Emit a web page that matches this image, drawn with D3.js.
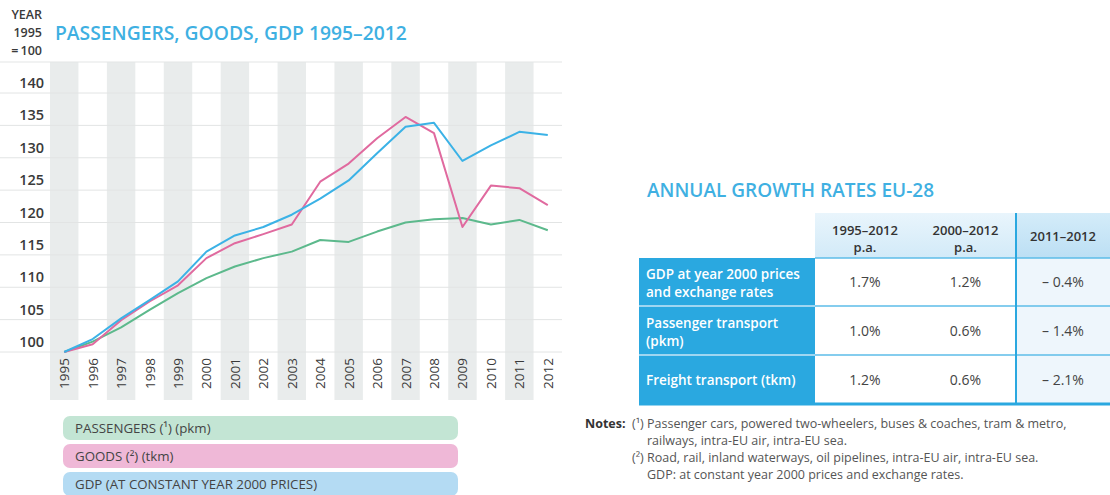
<!DOCTYPE html>
<html>
<head>
<meta charset="utf-8">
<script src="https://cdn.jsdelivr.net/npm/d3@7"></script>
<style>
  body { margin: 0; background: #fff; }
  svg { display: block; font-family: "Open Sans", sans-serif; }
</style>
</head>
<body>
<svg width="1110" height="495"></svg>
<script>
var years = [1995, 1996, 1997, 1998, 1999, 2000, 2001, 2002, 2003, 2004, 2005, 2006, 2007, 2008, 2009, 2010, 2011, 2012]
var passengers = [100, 101.6, 103.8, 106.5, 109.1, 111.4, 113.2, 114.5, 115.5, 117.3, 117.0, 118.6, 120.0, 120.5, 120.7, 119.7, 120.4, 118.8]
var goods = [100, 101.2, 104.9, 107.8, 110.3, 114.5, 116.8, 118.2, 119.7, 126.3, 129.1, 133.0, 136.3, 133.8, 119.3, 125.7, 125.3, 122.7]
var gdp = [100, 102.0, 105.2, 108.0, 110.9, 115.5, 118.0, 119.3, 121.2, 123.7, 126.5, 130.7, 134.8, 135.4, 129.5, 131.9, 134.0, 133.5]
var yTicks = [100, 105, 110, 115, 120, 125, 130, 135, 140]

var legendLabels = ['PASSENGERS (\u00b9) (pkm)', 'GOODS (\u00b2) (tkm)', 'GDP (AT CONSTANT YEAR 2000 PRICES)']

var colHeads = [['1995\u20132012', 'p.a.'], ['2000\u20132012', 'p.a.'], ['2011\u20132012']]
var rowLabels = [['GDP at year 2000 prices', 'and exchange rates'], ['Passenger transport', '(pkm)'], ['Freight transport (tkm)']]
var rates = [['1.7%', '1.2%', '\u2013 0.4%'], ['1.0%', '0.6%', '\u2013 1.4%'], ['1.2%', '0.6%', '\u2013 2.1%']]

var notes = [
  ['(\u00b9)', 'Passenger cars, powered two-wheelers, buses & coaches, tram & metro,'],
  ['', 'railways, intra-EU air, intra-EU sea.'],
  ['(\u00b2)', 'Road, rail, inland waterways, oil pipelines, intra-EU air, intra-EU sea.'],
  ['', 'GDP: at constant year 2000 prices and exchange rates.']
]

var svg = d3.select('svg')

var x = d3.scaleBand().domain(years).range([50, 562])
var y = d3.scaleLinear().domain([100, 140]).range([352, 93])
var cx = function (d) { return x(d) + x.bandwidth() / 2 }

// alternating year bands
svg.append('g').selectAll('rect')
  .data(years.filter(function (d, i) { return i % 2 === 0 }))
  .enter().append('rect')
  .attr('x', function (d) { return x(d) })
  .attr('y', 62)
  .attr('width', x.bandwidth())
  .attr('height', 338)
  .attr('fill', '#e9ecec')

svg.append('line')
  .attr('x1', 0).attr('x2', 562).attr('y1', 62).attr('y2', 62)
  .attr('stroke', '#e3e5e5')

var grid = svg.append('g')
grid.selectAll('line')
  .data(yTicks)
  .enter().append('line')
  .attr('x1', 0).attr('x2', 562)
  .attr('y1', function (d) { return y(d) })
  .attr('y2', function (d) { return y(d) })
  .attr('stroke', '#e2e4e4')
grid.selectAll('text')
  .data(yTicks)
  .enter().append('text')
  .attr('x', 44)
  .attr('y', function (d) { return y(d) - 5 })
  .attr('text-anchor', 'end')
  .attr('font-size', 14.5)
  .attr('font-weight', 600)
  .attr('fill', '#3a3a3a')
  .text(function (d) { return d })

svg.append('g').selectAll('text')
  .data(years)
  .enter().append('text')
  .attr('transform', function (d) { return 'translate(' + (cx(d) + 5) + ',358) rotate(-90)' })
  .attr('text-anchor', 'end')
  .attr('font-size', 13.5)
  .attr('fill', '#3a3a3a')
  .text(function (d) { return d })

var line = d3.line()
  .x(function (d, i) { return cx(years[i]) })
  .y(function (d) { return y(d) })

var series = [
  {values: passengers, color: '#5cb98c'},
  {values: goods, color: '#e06a9f'},
  {values: gdp, color: '#3bb2e6'}
]
svg.append('g').selectAll('path')
  .data(series)
  .enter().append('path')
  .attr('d', function (d) { return line(d.values) })
  .attr('fill', 'none')
  .attr('stroke', function (d) { return d.color })
  .attr('stroke-width', 2)
  .attr('stroke-linejoin', 'round')

// titles
var yr = svg.append('text')
  .attr('text-anchor', 'end')
  .attr('font-size', 12.5)
  .attr('font-weight', 600)
  .attr('fill', '#3a3a3a')
yr.selectAll('tspan')
  .data(['YEAR', '1995', '=\u2009100'])
  .enter().append('tspan')
  .attr('x', 42)
  .attr('y', function (d, i) { return 19 + i * 18 })
  .text(function (d) { return d })

svg.append('text')
  .attr('x', 55).attr('y', 40)
  .attr('font-size', 19.3)
  .attr('font-weight', 600)
  .attr('fill', '#3fb0e2')
  .text('PASSENGERS, GOODS, GDP 1995\u20132012')

// legend
var legendFill = ['#c3e5d4', '#efb8d7', '#b4dbf3']
var leg = svg.append('g').selectAll('g')
  .data(legendLabels)
  .enter().append('g')
  .attr('transform', function (d, i) { return 'translate(63,' + (416 + i * 28) + ')' })
leg.append('rect')
  .attr('width', 395).attr('height', 24)
  .attr('rx', 7)
  .attr('fill', function (d, i) { return legendFill[i] })
leg.append('text')
  .attr('x', 12).attr('y', 17)
  .attr('font-size', 13.3)
  .attr('fill', '#444')
  .text(function (d) { return d })

// growth rate table
svg.append('text')
  .attr('x', 647).attr('y', 197)
  .attr('font-size', 19)
  .attr('font-weight', 600)
  .attr('fill', '#3fb0e2')
  .text('ANNUAL GROWTH RATES EU-28')

var colX = [815, 915, 1016, 1110]
var rowY = [258, 306, 355, 404]
var headTop = 213
var labelX = 639

var defs = svg.append('defs')
var grad = defs.append('linearGradient').attr('id', 'hd').attr('x1', 0).attr('x2', 0).attr('y1', 0).attr('y2', 1)
grad.append('stop').attr('offset', '0%').attr('stop-color', '#e9f5fc')
grad.append('stop').attr('offset', '100%').attr('stop-color', '#d2eaf8')
var grad2 = defs.append('linearGradient').attr('id', 'hd2').attr('x1', 0).attr('x2', 0).attr('y1', 0).attr('y2', 1)
grad2.append('stop').attr('offset', '0%').attr('stop-color', '#d4ecf9')
grad2.append('stop').attr('offset', '100%').attr('stop-color', '#bcdff4')

var tbl = svg.append('g')
tbl.append('rect')
  .attr('x', colX[2]).attr('y', rowY[0])
  .attr('width', colX[3] - colX[2]).attr('height', rowY[3] - rowY[0])
  .attr('fill', '#eef6fc')

var heads = tbl.selectAll('g.head')
  .data(colHeads)
  .enter().append('g')
  .attr('class', 'head')
heads.append('rect')
  .attr('x', function (d, i) { return colX[i] })
  .attr('y', headTop)
  .attr('width', function (d, i) { return colX[i + 1] - colX[i] })
  .attr('height', rowY[0] - headTop)
  .attr('fill', function (d, i) { return i === 2 ? 'url(#hd2)' : 'url(#hd)' })
heads.append('text')
  .attr('text-anchor', 'middle')
  .attr('font-size', 13)
  .attr('font-weight', 600)
  .attr('fill', '#333')
  .selectAll('tspan')
  .data(function (d, i) { return d.map(function (t) { return {t: t, i: i, n: d.length} }) })
  .enter().append('tspan')
  .attr('x', function (d) { return (colX[d.i] + colX[d.i + 1]) / 2 })
  .attr('y', function (d, j) { return d.n === 1 ? 241 : 235 + j * 17 })
  .text(function (d) { return d.t })

var rows = tbl.selectAll('g.row')
  .data(rowLabels)
  .enter().append('g')
  .attr('class', 'row')
rows.append('rect')
  .attr('x', labelX)
  .attr('y', function (d, i) { return rowY[i] })
  .attr('width', colX[0] - labelX)
  .attr('height', function (d, i) { return rowY[i + 1] - rowY[i] })
  .attr('fill', '#2aa8e0')
rows.append('text')
  .attr('font-size', 13.5)
  .attr('font-weight', 600)
  .attr('fill', '#fff')
  .selectAll('tspan')
  .data(function (d, i) { return d.map(function (t) { return {t: t, i: i, n: d.length} }) })
  .enter().append('tspan')
  .attr('x', labelX + 7)
  .attr('y', function (d, j) {
    var mid = (rowY[d.i] + rowY[d.i + 1]) / 2
    return d.n === 1 ? mid + 5 : mid - 3 + j * 18
  })
  .text(function (d) { return d.t })

rows.selectAll('text.val')
  .data(function (d, i) { return rates[i].map(function (v, k) { return {v: v, i: i, k: k} }) })
  .enter().append('text')
  .attr('class', 'val')
  .attr('x', function (d) { return (colX[d.k] + colX[d.k + 1]) / 2 })
  .attr('y', function (d) { return (rowY[d.i] + rowY[d.i + 1]) / 2 + 5 })
  .attr('text-anchor', 'middle')
  .attr('font-size', 14)
  .attr('fill', '#444')
  .text(function (d) { return d.v })

// row separators
tbl.selectAll('line.sepL')
  .data([rowY[1], rowY[2]])
  .enter().append('line')
  .attr('x1', labelX).attr('x2', colX[0])
  .attr('y1', function (d) { return d }).attr('y2', function (d) { return d })
  .attr('stroke', '#9fd6f1').attr('stroke-width', 2)
tbl.selectAll('line.sepR')
  .data([rowY[0], rowY[1], rowY[2]])
  .enter().append('line')
  .attr('x1', colX[0]).attr('x2', colX[3])
  .attr('y1', function (d) { return d }).attr('y2', function (d) { return d })
  .attr('stroke', '#5cbde9').attr('stroke-width', 1.5)
tbl.append('line')
  .attr('x1', labelX).attr('x2', colX[3])
  .attr('y1', rowY[3]).attr('y2', rowY[3])
  .attr('stroke', '#2aa8e0').attr('stroke-width', 3)
tbl.append('line')
  .attr('x1', colX[2]).attr('x2', colX[2])
  .attr('y1', headTop).attr('y2', rowY[3])
  .attr('stroke', '#2aa8e0').attr('stroke-width', 2)

// notes
svg.append('text')
  .attr('x', 585).attr('y', 428)
  .attr('font-size', 12.5)
  .attr('font-weight', 700)
  .attr('fill', '#333')
  .text('Notes:')
var nt = svg.append('g').selectAll('g')
  .data(notes)
  .enter().append('g')
nt.append('text')
  .attr('x', 632)
  .attr('y', function (d, i) { return 428 + i * 17 })
  .attr('font-size', 12.5)
  .attr('fill', '#555')
  .text(function (d) { return d[0] })
nt.append('text')
  .attr('x', 647)
  .attr('y', function (d, i) { return 428 + i * 17 })
  .attr('font-size', 12.5)
  .attr('fill', '#555')
  .text(function (d) { return d[1] })
</script>
</body>
</html>
